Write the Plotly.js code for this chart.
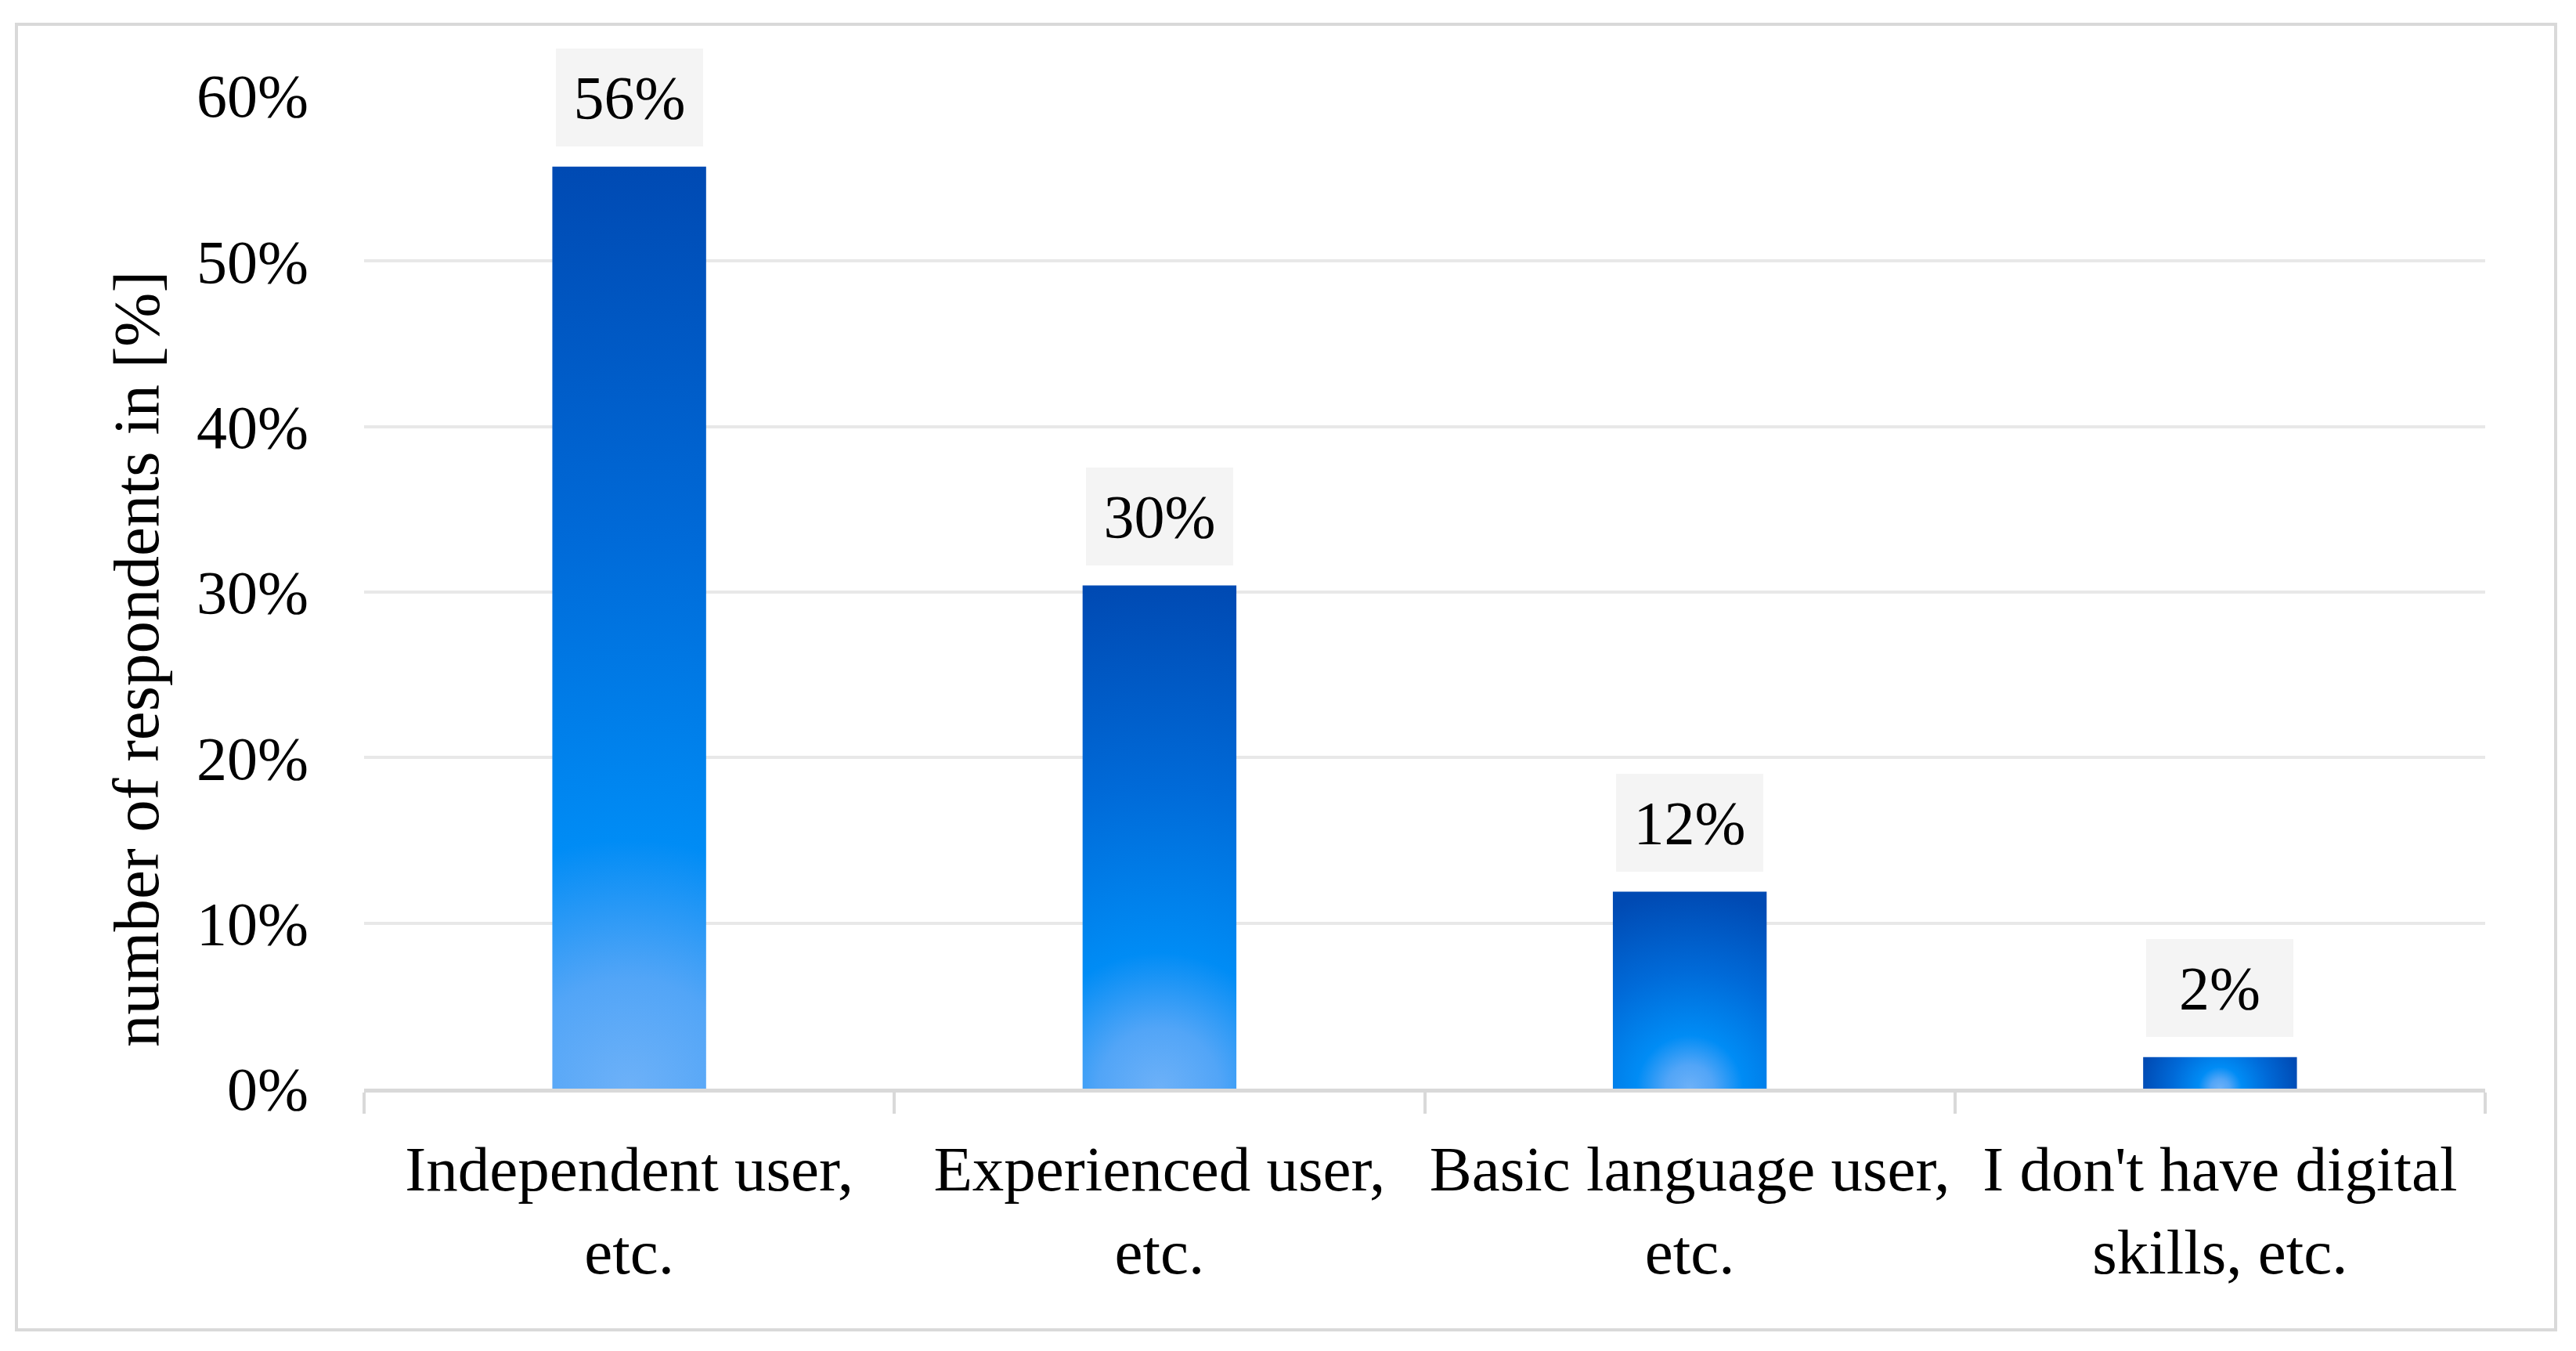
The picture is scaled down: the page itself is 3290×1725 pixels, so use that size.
<!DOCTYPE html>
<html>
<head>
<meta charset="utf-8">
<script src="https://cdn.plot.ly/plotly-3.0.1.min.js"></script>
<style>
  html, body { margin: 0; padding: 0; background: #ffffff; }
  #chart { width: 3290px; height: 1725px; }
</style>
</head>
<body>
<div id="chart"></div>
<script>
// ---- data ----
const categories = [
  "Independent user,<br>etc.",
  "Experienced user,<br>etc.",
  "Basic language user,<br>etc.",
  "I don't have digital<br>skills, etc."
];
const values = [55.7, 30.4, 11.9, 1.9];
const valueLabels = ["56%", "30%", "12%", "2%"];
const yTickVals = [0, 10, 20, 30, 40, 50, 60];
const yTickText = ["0%", "10%", "20%", "30%", "40%", "50%", "60%"];
const yTitle = "number of respondents in [%]";

const FONT = '"Palatino Linotype", "Book Antiqua", Palatino, "Liberation Serif", serif';

const data = [{
  type: 'bar',
  x: categories,
  y: values,
  marker: { color: '#0080ee', line: { width: 0 } },
  hoverinfo: 'none'
}];

const annotations = categories.map((c, i) => ({
  x: c, y: values[i], xref: 'x', yref: 'y',
  text: valueLabels[i],
  showarrow: false,
  yanchor: 'bottom', xanchor: 'center',
  yshift: 26,
  bgcolor: '#f4f4f4',
  borderwidth: 0,
  borderpad: 10,
  width: 168, height: 105,
  font: { family: FONT, size: 78, color: '#000000' }
}));

annotations.push({
  xref: 'paper', yref: 'paper',
  x: (174 - 465) / 2709, y: (1390 - 842) / 1268,
  xanchor: 'center', yanchor: 'middle',
  text: yTitle, textangle: -90, showarrow: false,
  font: { family: FONT, size: 83, color: '#000000' }
});

const layout = {
  width: 3290, height: 1725,
  paper_bgcolor: '#ffffff', plot_bgcolor: '#ffffff',
  margin: { l: 465, r: 116, t: 122, b: 335 },
  showlegend: false,
  bargap: 0.71,
  font: { family: FONT, size: 78, color: '#000000' },
  xaxis: {
    type: 'category',
    showgrid: false,
    showline: true, linecolor: '#d9d9d9', linewidth: 5,
    ticks: 'outside', tickson: 'boundaries', ticklen: 27, tickwidth: 4, tickcolor: '#d9d9d9',
    ticklabelstandoff: 28,
    tickangle: 0,
    tickfont: { family: FONT, size: 81, color: '#000000' },
    fixedrange: true
  },
  yaxis: {
    range: [0, 60],
    tickvals: yTickVals, ticktext: yTickText,
    showline: false, zeroline: false,
    showgrid: true, gridcolor: '#e8e8e8', gridwidth: 4,
    ticks: '', ticklabelstandoff: 70,
    tickfont: { family: FONT, size: 78, color: '#000000' },
    fixedrange: true
  },
  annotations: annotations,
  shapes: [{
    type: 'rect', xref: 'paper', yref: 'paper',
    x0: (21 - 465) / 2709, x1: (3264 - 465) / 2709,
    y0: (1390 - 1698) / 1268, y1: (1390 - 31) / 1268,
    line: { color: '#d9d9d9', width: 4 }, fillcolor: 'rgba(0,0,0,0)', layer: 'below'
  }]
};

Plotly.newPlot('chart', data, layout, { staticPlot: true, displayModeBar: false }).then(gd => {
  const svg = gd.querySelector('.main-svg');
  const NS = 'http://www.w3.org/2000/svg';
  let defs = svg.querySelector('defs');
  if (!defs) { defs = document.createElementNS(NS, 'defs'); svg.insertBefore(defs, svg.firstChild); }
  const stops = [[0, '#6db1f8'], [0.12, '#52a5f7'], [0.27, '#008cf5'], [0.6, '#006ad8'], [1, '#004ab3']];
  gd.querySelectorAll('.bars .point path').forEach((p, i) => {
    const b = p.getBBox();
    const R = Math.max(b.height, 0.52 * b.width);
    const g = document.createElementNS(NS, 'radialGradient');
    g.setAttribute('id', 'barGrad' + i);
    g.setAttribute('gradientUnits', 'userSpaceOnUse');
    g.setAttribute('cx', b.x + b.width / 2); g.setAttribute('cy', b.y + b.height);
    g.setAttribute('fx', b.x + b.width / 2); g.setAttribute('fy', b.y + b.height);
    g.setAttribute('r', R);
    stops.forEach(([o, c]) => {
      const s = document.createElementNS(NS, 'stop');
      s.setAttribute('offset', o); s.setAttribute('stop-color', c);
      g.appendChild(s);
    });
    defs.appendChild(g);
    p.style.fill = 'url(#barGrad' + i + ')';
  });
});
</script>
</body>
</html>
